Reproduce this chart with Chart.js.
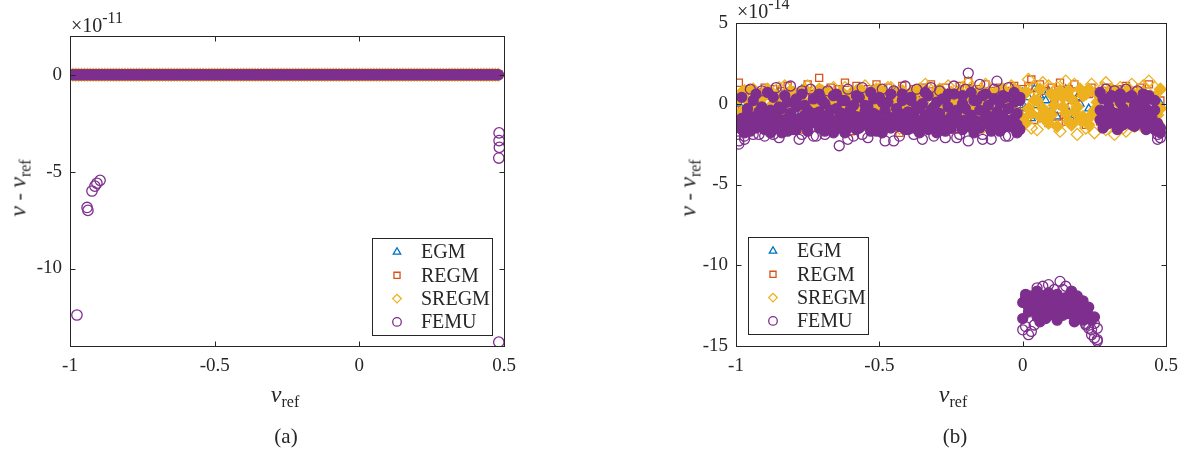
<!DOCTYPE html>
<html lang="en">
<head>
<meta charset="UTF-8">
<title>nu - nu_ref</title>
<script src="https://cdn.jsdelivr.net/npm/chart.js"></script>
<style>
  body { margin: 0; background: #fff; width: 1187px; height: 453px; position: relative; overflow: hidden;
         font-family: "Liberation Serif", "DejaVu Serif", serif; color: #262626; }
  canvas { position: absolute; top: 0; }
  .t { position: absolute; white-space: nowrap; line-height: 1; }
  .exp { font-size: 20px; line-height: 20px; }
  .exp span { font-size: 16px; position: relative; top: -9px; }
  .nu { font-style: italic; font-size: 24px; }
  .sub { font-size: 16px; position: relative; top: 5px; }
  .xt { transform: translateX(-50%); font-size: 24px; line-height: 24px; }
  .yt { transform: translate(-50%, -50%) rotate(-90deg); font-size: 22px; line-height: 24px; }
  .cap { transform: translateX(-50%); font-size: 21px; line-height: 21px; }
</style>
</head>
<body>
  <canvas id="chartA" width="620" height="453" style="left:0"></canvas>
  <canvas id="chartB" width="537" height="453" style="left:650px"></canvas>

  <div class="t exp" style="left:71px; top:15px">×10<span>-11</span></div>
  <div class="t exp" style="left:737px; top:1px">×10<span>-14</span></div>

  <div class="t yt" style="left:19px; top:188px"><span class="nu">ν</span> - <span class="nu">ν</span><span class="sub">ref</span></div>
  <div class="t yt" style="left:689px; top:188px"><span class="nu">ν</span> - <span class="nu">ν</span><span class="sub">ref</span></div>

  <div class="t xt" style="left:285px; top:382px"><span class="nu">ν</span><span class="sub">ref</span></div>
  <div class="t xt" style="left:953px; top:382px"><span class="nu">ν</span><span class="sub">ref</span></div>

  <div class="t cap" style="left:286px; top:426px">(a)</div>
  <div class="t cap" style="left:955px; top:426px">(b)</div>

<script>
// nu_ref sweep shared by both panels
const nuRef = [
  -0.99, -0.98, -0.97, -0.96, -0.95, -0.94, -0.93, -0.92, -0.91, -0.90,
  -0.89, -0.88, -0.87, -0.86, -0.85, -0.84, -0.83, -0.82, -0.81, -0.80,
  -0.79, -0.78, -0.77, -0.76, -0.75, -0.74, -0.73, -0.72, -0.71, -0.70,
  -0.69, -0.68, -0.67, -0.66, -0.65, -0.64, -0.63, -0.62, -0.61, -0.60,
  -0.59, -0.58, -0.57, -0.56, -0.55, -0.54, -0.53, -0.52, -0.51, -0.50,
  -0.49, -0.48, -0.47, -0.46, -0.45, -0.44, -0.43, -0.42, -0.41, -0.40,
  -0.39, -0.38, -0.37, -0.36, -0.35, -0.34, -0.33, -0.32, -0.31, -0.30,
  -0.29, -0.28, -0.27, -0.26, -0.25, -0.24, -0.23, -0.22, -0.21, -0.20,
  -0.19, -0.18, -0.17, -0.16, -0.15, -0.14, -0.13, -0.12, -0.11, -0.10,
  -0.09, -0.08, -0.07, -0.06, -0.05, -0.04, -0.03, -0.02, -0.01,
  0.00, 0.01, 0.02, 0.03, 0.04, 0.05, 0.06, 0.07, 0.08, 0.09,
  0.10, 0.11, 0.12, 0.13, 0.14, 0.15, 0.16, 0.17, 0.18, 0.19,
  0.20, 0.21, 0.22, 0.23, 0.24, 0.25, 0.26, 0.27, 0.28, 0.29,
  0.30, 0.31, 0.32, 0.33, 0.34, 0.35, 0.36, 0.37, 0.38, 0.39,
  0.40, 0.41, 0.42, 0.43, 0.44, 0.45, 0.46, 0.47, 0.48
];

// ---- panel (a): nu - nu_ref in units of 1e-11 ----
// at this scale every method sits on zero over the whole sweep
const bandA = nuRef.map(() => 0);
// FEMU points that fall off the band
const femuOutNuA = [-0.976, -0.941, -0.938, -0.924, -0.914, -0.907, -0.896, 0.483, 0.483, 0.484, 0.482, 0.482];
const femuOutA   = [-12.4, -6.85, -7.0, -6.0, -5.75, -5.6, -5.45, -3.0, -3.4, -3.75, -4.3, -13.8];

// ---- panel (b): nu - nu_ref in units of 1e-14 ----
const egmB = [
  0.0, -0.6, 0.4, -0.9, 0.2, -0.3, 0.7, -0.5, 0.1, -0.8, 0.5, -0.2, -0.7, 0.3, 0.8, -0.4, 0.0, -1.0, 0.6, -0.1,
  -0.6, 0.4, 0.9, -0.3, -0.8, 0.2, 0.6, -0.5, 0.1, -0.9, 0.7, -0.2, 0.3, -0.7, 0.5, -0.4, 0.8, -0.1, -0.6, 0.4,
  -0.9, 0.2, 0.6, -0.3, 0.0, -0.8, 0.5, 0.9, -0.5, 0.1, -0.4, 0.7, -1.0, 0.3, 0.8, -0.2, -0.6, 0.4, 0.0, -0.7,
  0.6, -0.3, 0.2, -0.9, 0.5, 0.9, -0.5, 0.1, -0.2, 0.7, -0.8, 0.3, 0.0, 0.6, -0.4, -0.9, 0.8, -0.1, 0.4, -0.6,
  0.2, 0.9, -0.7, 0.5, -0.3, 0.1, -1.0, 0.7, -0.2, 0.4, -0.5, 0.8, 0.0, -0.8, 0.3, 0.6, -0.4, 0.2, -0.1,
  0.7, -0.3, 0.4, -0.9, 0.9, -0.1, 0.5, -0.6, 0.2, 0.8, -0.4, 0.1, -0.8, 0.6, -0.2, 0.9, -0.5, 0.3, -0.7, 0.4,
  0.0, -1.0, 0.6, -0.3, 0.8, -0.6, 0.2,
  -0.4, 0.5, -0.8, 0.1, 0.7, -0.2, -0.6, 0.4, 0.9, -0.5, 0.0, 0.6, -0.9, 0.3, -0.1, 0.8, -0.7, 0.2, 0.5, -0.3,
  0.1, 0.0
];
const regmB = [
  1.3, -0.4, 0.8, -1.1, 0.9, 0.2, -1.5, 0.7, -0.6, 1.0, -0.8, 0.5, 0.9, -1.3, 0.3, 0.8, -0.7, 1.1, -1.0, 0.6,
  -0.2, 0.7, -1.6, 0.4, 1.2, -0.9, 0.6, -0.3, 1.6, -1.2, 0.8, -0.5, 1.0, -1.4, 0.2, 0.9, -0.8, 1.3, -0.1, -1.7,
  0.7, 1.1, -0.6, 0.4, -1.3, 0.9, 0.1, -1.0, 1.2, -0.4, 0.6, -1.5, 1.0, 0.3, -0.9, 0.8, -1.8, 1.1, -0.2, 0.5,
  -1.1, 0.9, 0.2, -0.7, 1.0, -1.4, 0.6, 1.2, -0.5, 0.8, -1.3, 0.4, 1.0, -0.8, 0.7, -1.6, 0.3, 1.1, -0.6, 0.9,
  1.4, -1.0, 0.5, 0.9, -1.5, 0.2, 1.2, -0.7, 0.8, -1.2, 0.6, 1.0, -0.9, 0.4, -1.4, 0.8, 1.1, -0.3, 0.5,
  0.9, -0.6, 1.1, 1.5, -1.0, 0.6, 1.2, -0.4, 0.8, -1.2, 1.0, 0.3, -0.8, 1.3, 0.5, -1.1, 0.9, -0.2, 1.2, -0.9,
  0.4, 0.8, -1.3, 0.6, 1.0, -0.5, 0.7,
  -1.1, 0.8, 1.0, -0.7, 0.5, -1.3, 0.9, 0.2, -0.9, 1.1, -0.4, 0.6, -1.2, 0.8, 1.0, -0.6, 0.4, 1.2, -0.8, 0.5,
  -0.3, 0.2
];
const sregmB1 = [
  0.3, -0.5, 0.8, -0.9, 0.1, -0.3, 0.6, -1.2, 0.4, -0.6, 0.9, -0.2, -1.0, 0.5, -0.7, 0.2, 1.1, -0.4, -1.3, 0.7,
  -0.1, 0.4, -0.8, 0.9, -0.5, 0.0, -1.1, 0.6, -0.3, 0.8, -0.9, 0.2, 0.7, -0.6, -1.4, 0.3, -0.2, 1.0, -0.7, 0.1,
  0.5, -1.0, -0.3, 0.8, -0.5, 0.2, -1.2, 0.6, -0.1, 0.9, -0.8, 0.4, -0.4, 1.0, -1.1, 0.1, 0.7, -0.6, -0.2, 0.5,
  -1.3, 0.3, 0.8, -0.7, 0.0, 1.2, -0.5, -1.0, 0.6, -0.2, 0.9, -0.8, 0.2, -0.4, 0.7, -1.2, 0.4, -0.1, 1.0, -0.6,
  1.3, -0.3, 0.5, -1.0, 0.1, 0.8, -0.7, -0.2, 0.6, -1.3, 0.3, -0.5, 0.9, -0.9, 0.2, 1.1, -0.4, -1.5, 0.7,
  0.5, -1.2, 1.5, -0.6, 0.2, -1.6, 0.9, -0.3, -1.0, 1.1, -0.7, 0.4, -1.4, 0.8, -0.2, 1.4, -1.1, 0.3, -0.5, -1.9,
  0.9, -0.8, 0.6, -1.3, 1.2, -0.4, 0.1,
  -1.0, 1.0, -1.6, 0.4, -0.6, -1.9, 0.8, -1.2, 0.2, -1.7, 0.9, -0.5, -1.4, 0.6, -0.9, 1.1, -1.5, 0.3, -0.8, 1.0,
  -1.2, -0.3
];
const sregmB2 = [
  -0.8, 0.7, -1.3, 0.2, -0.4, 0.9, -1.0, 0.1, -0.7, 0.5, -1.4, 0.6, 0.0, -0.8, 1.0, -1.1, -0.3, 0.4, 0.8, -0.9,
  0.6, -1.5, 0.2, -0.4, 1.1, -0.9, 0.3, -0.6, 0.9, -1.2, 0.5, -0.3, -1.0, 1.0, 0.0, -0.8, 0.7, -1.3, 0.4, -0.5,
  -1.1, 0.8, 0.3, -0.7, 1.1, -0.4, 0.5, -1.4, 0.9, -0.2, 0.6, -1.2, 1.0, -0.1, 0.4, -0.9, -1.5, 0.8, 0.2, -0.7,
  0.7, -0.4, -1.1, 0.9, -0.6, 0.3, 1.0, -0.3, -1.3, 0.5, -0.5, 0.6, -1.2, 1.1, -0.2, 0.4, -0.9, 0.8, -1.4, 0.3,
  -0.6, 1.0, -1.1, 0.7, -0.4, -1.5, 1.2, 0.2, -0.9, 0.6, -1.1, 0.8, -0.2, 0.5, -1.3, 0.0, 0.9, -0.6, -1.0,
  -0.9, 0.7, -0.3, -1.5, 1.0, 0.2, -0.8, 1.3, -0.5, -1.2, 0.6, -0.1, 1.0, -1.7, 0.4, -0.6, 0.8, -1.3, 1.2, -0.2,
  -1.0, 0.5, -1.5, 0.9, -0.7, -1.8, 0.6,
  0.5, -0.8, 1.3, -0.4, 0.9, -1.1, 0.1, 1.0, -1.5, 0.6, -0.3, 1.2, -0.9, 0.2, -1.3, 0.7, -0.6, 1.4, -1.0, 0.4,
  -0.7, 0.9
];
// FEMU: three passes over the sweep; 0 <= nu <= 0.26 drops to the -12e-14 cluster
const femuB1 = [
  -1.4, -0.9, -1.8, -0.6, -1.1, 0.2, -0.8, -1.3, -0.2, -0.9, -0.5, -1.2, 0.4, -0.7, -1.0, -0.3, -1.5, 0.1, -0.6, -1.1,
  -0.2, -0.9, 0.6, -1.3, -0.4, -0.8, 0.3, -1.0, -0.5, -1.4, 0.0, -0.7, -1.1, 0.5, -0.3, -0.9, -1.2, 0.2, -0.6, -1.0,
  -0.1, -0.8, 0.4, -1.3, -0.5, -0.2, -1.0, 0.3, -0.7, -1.2, 0.1, -0.4, -0.9, 0.6, -1.1, -0.3, -0.6, 0.2, -1.0, -0.5,
  0.4, -0.8, -0.2, -1.2, 0.0, -0.7, 0.5, -0.4, -0.9, 0.1, -0.6, -1.1, 0.3, -0.2, -0.8, 0.6, -0.5, -1.0, 0.0, -0.3,
  1.9, -0.7, 0.2, -1.1, -0.4, 0.5, -0.6, -0.1, -0.9, 0.3, -0.5, 0.0, -0.8, 0.4, -0.3, -1.0, 0.1, -0.6, 0.2,
  -12.3, -12.0, -12.6, -11.9, -12.4, -11.6, -12.2, -11.9, -12.5, -11.7, -12.1, -12.4, -11.8, -12.2, -11.5, -12.0,
  -12.3, -11.9, -12.4, -12.2, -12.6, -12.5, -12.9, -13.1, -13.4, -13.6, -13.9,
  -0.4, 0.3, -0.8, -0.2, 0.5, -0.6, -1.0, 0.1, -0.3, -0.7, 0.4, -0.5, -0.1, -0.9, 0.2, -0.6, -0.3, 0.3, -0.8, -0.4,
  -1.2, -1.8
];
const femuB2 = [
  -2.3, -1.6, -2.0, -1.2, -1.7, -0.9, -1.5, -1.9, -1.1, -1.6, -1.3, -1.8, -0.8, -1.5, -2.1, -1.0, -1.4, -1.7, -0.9, -1.3,
  -1.6, -1.1, -1.9, -0.7, -1.4, -1.2, -2.0, -0.8, -1.5, -1.1, -1.7, -0.9, -1.3, -1.8, -1.0, -1.5, -0.6, -1.2, -2.2, -1.4,
  -0.8, -1.6, -1.1, -1.9, -0.9, -1.3, -1.7, -0.7, -1.4, -1.0, -1.8, -1.2, -0.8, -1.5, -2.3, -1.1, -1.4, -0.9, -1.6, -1.2,
  -0.7, -1.5, -1.0, -1.8, -1.3, -0.9, -1.6, -1.1, -2.0, -1.4, -0.8, -1.3, -1.7, -1.0, -1.5, -0.9, -2.1, -1.2, -1.6, -1.0,
  -1.4, -0.8, -1.8, -1.1, -1.5, -2.2, -0.9, -1.3, -1.7, -1.0, -1.2, -1.6, -0.7, -1.4, -2.0, -1.1, -0.9, -1.3, -1.6,
  -13.3, -13.8, -12.9, -14.1, -12.7, -13.2, -12.5, -13.0, -12.3, -12.8, -12.6, -13.1, -12.4, -12.9, -12.7, -12.3,
  -13.0, -12.6, -12.9, -13.2, -12.8, -13.4, -13.6, -13.9, -14.3, -14.5, -14.7,
  -1.0, -0.6, -1.3, -0.9, -0.5, -1.2, -0.7, -1.4, -0.8, -1.1, -0.6, -1.3, -0.9, -0.4, -1.2, -0.8, -1.5, -1.0, -1.3, -1.6,
  -1.9, -2.1
];
const femuB3 = [
  -2.5, 0.4, -2.2, -0.3, 0.9, -1.9, 0.6, -0.5, 0.8, -2.0, 0.7, -0.4, -1.9, 1.0, -0.2, -1.8, 0.5, -0.9, 1.1, -1.6,
  0.3, -2.2, 0.8, -0.1, -1.7, 0.9, -0.6, -2.0, 0.6, 0.2, -1.9, 0.8, -0.4, -1.6, 0.6, -2.6, 0.2, -1.8, 0.9, -0.3,
  -2.0, 0.5, -1.5, 1.0, -0.1, -2.1, 0.7, -0.6, -1.7, 0.4, 0.9, -2.3, 0.1, -1.4, 0.8, -0.7, -2.0, 0.6, 1.1, -1.6,
  0.2, -1.9, 0.9, -0.3, -2.2, 0.7, -1.3, 1.0, -0.2, -1.8, 0.8, 0.3, -2.1, 0.6, -1.5, 1.1, -0.4, -1.9, 0.5, 0.9,
  -2.3, 0.7, -1.6, 0.2, 1.2, -1.9, 0.6, -0.8, -2.2, 0.9, 1.4, -1.7, 0.5, -2.0, 1.0, -1.4, 0.7, -1.8, 0.4,
  -14.0, -11.8, -14.3, -12.0, -13.7, -11.4, -13.5, -11.3, -13.3, -11.2, -12.9, -11.5, -13.4, -11.0, -13.1, -11.3,
  -12.8, -11.6, -13.5, -11.9, -13.0, -12.2, -13.7, -12.6, -14.0, -13.2, -14.6,
  0.7, -1.5, 0.9, -1.2, 0.4, 0.8, -1.6, 0.6, -1.3, 0.9, -0.9, 0.5, -1.4, 0.8, -1.1, 0.6, -1.6, 0.5, -1.4, 0.2,
  -2.2, -1.5
];

// axes
const xTicks = [-1, -0.5, 0, 0.5];
const xTickLabels = ['-1', '-0.5', '0', '0.5'];
const yTicksA = [-10, -5, 0];
const yTicksB = [-15, -10, -5, 0, 5];

const AXIS = '#262626';
const C_EGM = '#0072BD', C_REGM = '#D95319', C_SREGM = '#EDB120', C_FEMU = '#7E2F8E';
const NONE = 'rgba(0,0,0,0)';
const FONT = '"Liberation Serif", "DejaVu Serif", serif';

function pts(xs, ys) {
  return xs.map((x, i) => ({ x: x, y: ys[i] }));
}

function marker(ctx, style, x, y, r) {
  ctx.beginPath();
  if (style === 'triangle') {
    ctx.moveTo(x, y - r);
    ctx.lineTo(x + r * 0.866, y + r * 0.5);
    ctx.lineTo(x - r * 0.866, y + r * 0.5);
    ctx.closePath();
  } else if (style === 'rect') {
    const h = r * 0.707;
    ctx.rect(x - h, y - h, 2 * h, 2 * h);
  } else if (style === 'rectRot') {
    ctx.moveTo(x, y - r); ctx.lineTo(x + r, y); ctx.lineTo(x, y + r); ctx.lineTo(x - r, y);
    ctx.closePath();
  } else {
    ctx.arc(x, y, r, 0, Math.PI * 2);
  }
  ctx.stroke();
}

// MATLAB-like box, inward ticks on all four sides and a boxed legend inside the axes
const matlabAxes = {
  id: 'matlabAxes',
  afterDatasetsDraw(chart, args, opts) {
    const ctx = chart.ctx, a = chart.chartArea;
    const sx = chart.scales.x, sy = chart.scales.y;
    const L = Math.round(a.left) + 0.5, R = Math.round(a.right) + 0.5;
    const T = Math.round(a.top) + 0.5, B = Math.round(a.bottom) + 0.5;
    ctx.save();
    ctx.strokeStyle = AXIS;
    ctx.lineWidth = 1;
    ctx.strokeRect(L, T, R - L, B - T);
    ctx.beginPath();
    sx.ticks.forEach(t => {
      const px = Math.round(sx.getPixelForValue(t.value)) + 0.5;
      ctx.moveTo(px, B); ctx.lineTo(px, B - 5);
      ctx.moveTo(px, T); ctx.lineTo(px, T + 5);
    });
    sy.ticks.forEach(t => {
      const py = Math.round(sy.getPixelForValue(t.value)) + 0.5;
      ctx.moveTo(L, py); ctx.lineTo(L + 5, py);
      ctx.moveTo(R, py); ctx.lineTo(R - 5, py);
    });
    ctx.stroke();

    // legend
    const w = 120, h = 97;
    const bx = opts.corner === 'br' ? Math.round(a.right) - 12 - w : Math.round(a.left) + 12;
    const by = Math.round(a.bottom) - opts.bottomGap - h;
    ctx.fillStyle = '#fff';
    ctx.fillRect(bx, by, w, h);
    ctx.strokeRect(bx + 0.5, by + 0.5, w, h);
    ctx.font = '20px ' + FONT;
    ctx.textBaseline = 'middle';
    ctx.textAlign = 'left';
    chart.data.datasets.forEach((d, i) => {
      const cy = by + 14 + i * 23.3;
      ctx.strokeStyle = d.pointBorderColor;
      ctx.lineWidth = 1.3;
      marker(ctx, d.pointStyle, bx + 25, cy, 4.3);
      ctx.fillStyle = AXIS;
      ctx.fillText(d.label, bx + 49, cy + 1);
    });
    ctx.restore();
  }
};

function series(label, style, color, radius, order, data, fill) {
  return {
    label: label,
    data: data,
    showLine: false,
    pointStyle: style,
    pointRadius: radius,
    pointHoverRadius: radius,
    pointBorderWidth: 1.3,
    pointBorderColor: color,
    pointBackgroundColor: fill || NONE,
    order: order
  };
}

// where hundreds of markers pile up the picture reads as solid colour
function denseFill(color, ranges) {
  return c => {
    const y = c.raw ? c.raw.y : NaN;
    return ranges.some(r => y > r[0] && y < r[1]) ? color : NONE;
  };
}

function makeOptions(yMin, yMax, yTicks, yWidth, pad, legend) {
  const tickFont = { family: FONT, size: 19 };
  return {
    responsive: false,
    animation: false,
    events: [],
    devicePixelRatio: 1,
    layout: { padding: pad },
    plugins: { legend: { display: false }, tooltip: { enabled: false }, matlabAxes: legend },
    scales: {
      x: {
        type: 'linear', min: -1, max: 0.5,
        afterBuildTicks: s => { s.ticks = xTicks.map(v => ({ value: v })); },
        afterFit: s => { s.height = 107; },
        grid: { display: false, drawTicks: false },
        border: { display: false },
        ticks: {
          autoSkip: false, maxRotation: 0, padding: 9, color: AXIS, font: tickFont,
          callback: v => xTickLabels[xTicks.indexOf(v)]
        }
      },
      y: {
        type: 'linear', min: yMin, max: yMax,
        afterBuildTicks: s => { s.ticks = yTicks.map(v => ({ value: v })); },
        afterFit: s => { s.width = yWidth; },
        grid: { display: false, drawTicks: false },
        border: { display: false },
        ticks: { padding: 8, color: AXIS, font: tickFont, callback: v => String(v) }
      }
    }
  };
}

// panel (a)
new Chart(document.getElementById('chartA'), {
  type: 'scatter',
  data: {
    datasets: [
      series('EGM', 'triangle', C_EGM, 4.5, 4, pts(nuRef, bandA)),
      series('REGM', 'rect', C_REGM, 5, 3, pts(nuRef, bandA)),
      series('SREGM', 'rectRot', C_SREGM, 6.3, 2, pts(nuRef, bandA)),
      series('FEMU', 'circle', C_FEMU, 5.2, 1, pts(nuRef, bandA).concat(pts(femuOutNuA, femuOutA)),
        denseFill(C_FEMU, [[-0.5, 0.5]]))
    ]
  },
  options: makeOptions(-14, 2, yTicksA, 70, { left: 0, right: 116, top: 36, bottom: 0 },
    { corner: 'br', bottomGap: 11 }),
  plugins: [matlabAxes]
});

// panel (b)
new Chart(document.getElementById('chartB'), {
  type: 'scatter',
  data: {
    datasets: [
      series('EGM', 'triangle', C_EGM, 4.5, 4, pts(nuRef, egmB)),
      series('REGM', 'rect', C_REGM, 5, 3, pts(nuRef, regmB)),
      series('SREGM', 'rectRot', C_SREGM, 6, 2, pts(nuRef, sregmB1).concat(pts(nuRef, sregmB2)),
        denseFill(C_SREGM, [[-1.45, 1.0]])),
      series('FEMU', 'circle', C_FEMU, 5, 1,
        pts(nuRef, femuB1).concat(pts(nuRef, femuB2), pts(nuRef, femuB3)),
        denseFill(C_FEMU, [[-1.85, 0.75], [-13.6, -11.5]]))
    ]
  },
  options: makeOptions(-15, 5, yTicksB, 86, { left: 0, right: 19, top: 23, bottom: 0 },
    { corner: 'bl', bottomGap: 12 }),
  plugins: [matlabAxes]
});
</script>
</body>
</html>
